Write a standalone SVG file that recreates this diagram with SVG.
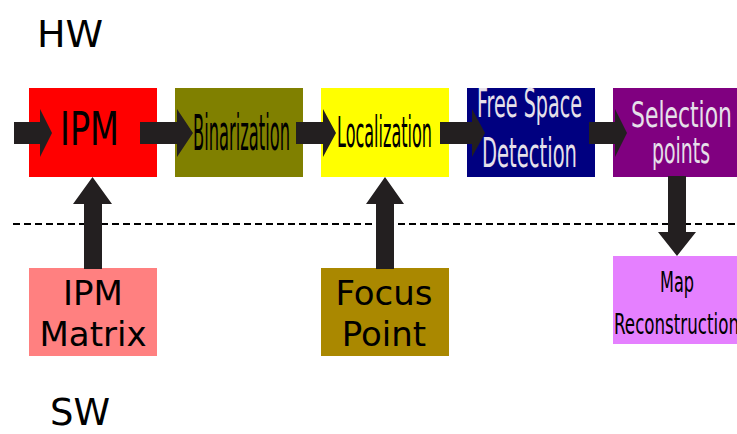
<svg xmlns="http://www.w3.org/2000/svg" width="737" height="434" viewBox="0 0 737 434">
<style>
.lbl{font-family:"DejaVu Sans","Liberation Sans",sans-serif;}
.arr{fill:#231f20;}
.dk{fill:#000;}
.lt{fill:#e6e0ea;}
</style>
<rect width="737" height="434" fill="#fff"/>
<text class="lbl dk" x="37" y="47" font-size="38">HW</text>
<text class="lbl dk" x="50" y="425" font-size="37">SW</text>
<line x1="13" y1="224" x2="737" y2="224" stroke="#000" stroke-width="2" stroke-dasharray="7 4"/>
<g id="ipm"><rect x="29" y="88" width="128" height="89" fill="#ff0000"/><text class="lbl dk" x="60" y="145" font-size="47" textLength="59" lengthAdjust="spacingAndGlyphs">IPM</text></g>
<g id="binarization"><rect x="175" y="88" width="128" height="89" fill="#808000"/><text class="lbl dk" x="193" y="150" font-size="49" textLength="97" lengthAdjust="spacingAndGlyphs">Binarization</text></g>
<g id="localization"><rect x="321" y="88" width="128" height="89" fill="#ffff00"/><text class="lbl dk" x="337" y="147" font-size="43" textLength="95" lengthAdjust="spacingAndGlyphs">Localization</text></g>
<g id="freespace"><rect x="467" y="88" width="128" height="89" fill="#000080"/><text class="lbl lt" x="477" y="117" font-size="39" textLength="105" lengthAdjust="spacingAndGlyphs">Free Space</text><text class="lbl lt" x="482" y="167" font-size="41" textLength="95" lengthAdjust="spacingAndGlyphs">Detection</text></g>
<g id="selection"><rect x="613" y="88" width="128" height="89" fill="#800080"/><text class="lbl lt" x="631" y="127" font-size="35" textLength="101" lengthAdjust="spacingAndGlyphs">Selection</text><text class="lbl lt" x="652" y="163" font-size="35" textLength="58" lengthAdjust="spacingAndGlyphs">points</text></g>
<g id="ipmmatrix"><rect x="29" y="268" width="128" height="88" fill="#ff8080"/><text class="lbl dk" x="93" y="305" font-size="34" text-anchor="middle">IPM</text><text class="lbl dk" x="93" y="346" font-size="34" text-anchor="middle">Matrix</text></g>
<g id="focuspoint"><rect x="321" y="268" width="128" height="88" fill="#aa8800"/><text class="lbl dk" x="384" y="305" font-size="34" text-anchor="middle">Focus</text><text class="lbl dk" x="384" y="346" font-size="34" text-anchor="middle">Point</text></g>
<g id="mapreconstruction"><rect x="613" y="256" width="128" height="88" fill="#e580ff"/><text class="lbl dk" x="660" y="292" font-size="28" textLength="34" lengthAdjust="spacingAndGlyphs">Map</text><text class="lbl dk" x="614" y="334" font-size="28" textLength="125" lengthAdjust="spacingAndGlyphs">Reconstruction</text></g>
<g id="connectors">
<polygon class="arr" points="14,122 40,122 40,109 52,133 40,157 40,144 14,144"/>
<polygon class="arr" points="140,122 177,122 177,109 193,133 177,157 177,144 140,144"/>
<polygon class="arr" points="296,122 323,122 323,109 336,133 323,157 323,144 296,144"/>
<polygon class="arr" points="440,122 472,122 472,109 485,133 472,157 472,144 440,144"/>
<polygon class="arr" points="589,122 615,122 615,109 627,133 615,157 615,144 589,144"/>
<polygon class="arr" points="84,269 84,204 73,204 92.5,177 112,204 102,204 102,269"/>
<polygon class="arr" points="376,269 376,204 366,204 385,177 404,204 394,204 394,269"/>
<polygon class="arr" points="668,176 686,176 686,232 696,232 677,256 658,232 668,232"/>
</g>
</svg>
